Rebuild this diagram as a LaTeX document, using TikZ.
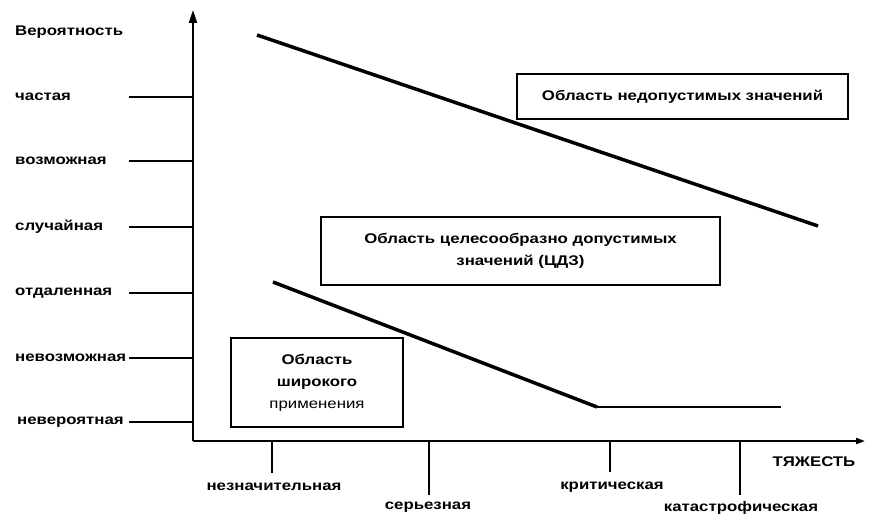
\documentclass[tikz,border=0pt]{standalone}
\usepackage{fontspec}
\setmainfont{Liberation Sans}[FakeStretch=1.2]
\usetikzlibrary{arrows.meta}
\begin{document}
\begin{tikzpicture}[x=1pt,y=-1pt,
  lbl/.style={font=\fontsize{14}{16}\selectfont\bfseries, inner sep=0pt},
  boxtxt/.style={font=\fontsize{14}{22}\selectfont\bfseries, align=center},
  box/.style={draw, line width=2pt, inner sep=2pt},
  axisline/.style={line width=2pt},
  tickline/.style={line width=2pt},
  border/.style={line width=3.5pt}]
\useasboundingbox (0,0) rectangle (878,516);
% axes
\coordinate (O) at (193,441);
\coordinate (Ytop) at (193,10);
\coordinate (Xend) at (865,441);
\draw[axisline, -{Triangle[length=13pt,width=8pt]}] (O) -- (Ytop);
\draw[axisline, -{Triangle[length=9pt,width=6pt]}] (O) -- (Xend);
% y labels
\node[lbl, anchor=west] (yl) at (15,32) {Вероятность};
\node[lbl, anchor=west] (p1) at (15,97) {частая};
\node[lbl, anchor=west] (p2) at (15,161) {возможная};
\node[lbl, anchor=west] (p3) at (15,227) {случайная};
\node[lbl, anchor=west] (p4) at (15,293) {отдаленная};
\node[lbl, anchor=west] (p5) at (15,358) {невозможная};
\node[lbl, anchor=west] (p6) at (17,422) {невероятная};
\foreach \n/\y in {1/97,2/161,3/227,4/293,5/358,6/422}{
  \coordinate (ty\n) at (129,\y);
  \draw[tickline] (ty\n) -- (ty\n -| O);
}
% x labels
\node[lbl] (s1) at (274,487) {незначительная};
\node[lbl] (s2) at (428,507) {серьезная};
\node[lbl] (s3) at (612,487) {критическая};
\node[lbl] (s4) at (741,508) {катастрофическая};
\node[lbl] (xl) at (814,462) {ТЯЖЕСТЬ};
\foreach \n/\x/\e in {1/272/473,2/429/495,3/610/472,4/740/495}{
  \coordinate (tx\n) at (\x,\e);
  \draw[tickline] (tx\n |- O) -- (tx\n);
}
% boxes
\node[box, boxtxt, minimum width=331pt, minimum height=45pt] (bad) at (682.5,96.5) {Область недопустимых значений};
\node[box, boxtxt, minimum width=399pt, minimum height=68pt] (mid) at (520.5,251) {Область целесообразно допустимых\\значений (ЦДЗ)};
\node[box, boxtxt, minimum width=172pt, minimum height=89pt] (low) at (317,382.5) {Область\\широкого\\{\mdseries применения}};
% boundary lines
\coordinate (u1) at (257,35);
\coordinate (u2) at (818,226);
\draw[border] (u1) -- (u2);
\coordinate (v1) at (273,282);
\coordinate (v2) at (597,407);
\coordinate (v3) at (781,407);
\draw[border] (v1) -- (v2);
\draw[tickline] (v2) -- (v3);
\end{tikzpicture}
\end{document}
